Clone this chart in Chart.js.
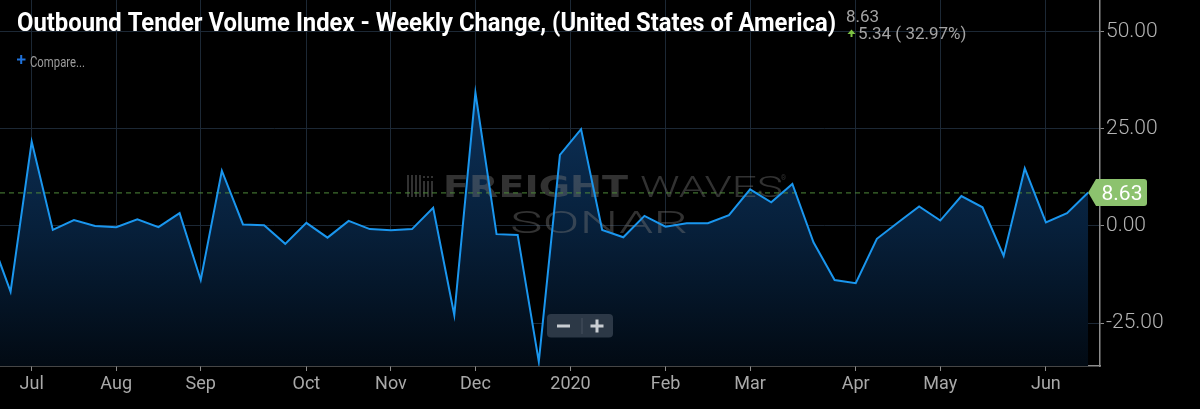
<!DOCTYPE html>
<html><head><meta charset="utf-8">
<script src="https://cdn.jsdelivr.net/npm/chart.js@4.4.0/dist/chart.umd.min.js"></script>
<style>html,body{margin:0;padding:0;background:#000;overflow:hidden}#wrap{width:1200px;height:409px;position:relative}</style>
</head><body><div id="wrap"><canvas id="c" width="1200" height="409"></canvas></div>
<script>
// week number (0 = first full week shown), values = weekly % change
const weekIndex = [-1,0,1,2,3,4,5,6,7,8,9,10,11,12,13,14,15,16,17,18,19,20,21,22,23,24,25,26,27,28,29,30,31,32,33,34,35,36,37,38,39,40,41,42,43,44,45,46,47,48,49,50,51];
const changePct = [-2.0,-16.9,21.7,-1.0,1.5,0.0,-0.3,1.7,-0.3,3.3,-13.9,14.2,0.4,0.2,-4.6,0.8,-3.0,1.3,-0.8,-1.1,-0.8,4.7,-22.9,34.3,-2.1,-2.3,-34.9,18.3,24.9,-1.0,-2.9,2.6,-0.2,0.7,0.7,2.8,9.4,6.1,10.8,-4.2,-13.9,-14.7,-3.3,0.9,5.0,1.4,7.7,4.8,-7.7,14.8,0.9,3.29,8.63];
const monthTickPos = [1,5,9,14,18,22,26.5,31,35,40,44,49];
const monthTickLabels = ['Jul','Aug','Sep','Oct','Nov','Dec','2020','Feb','Mar','Apr','May','Jun'];
const yTickValues = [-25,0,25,50];
const titleText = 'Outbound Tender Volume Index - Weekly Change, (United States of America)';
const lastValue = 8.63;
const changeText = '5.34 ( 32.97%)';

function fitText(c, text, x, y, target, font, color, mode){
  c.save();
  c.font = font; c.fillStyle = color; c.textBaseline = 'alphabetic'; c.textAlign='left';
  if (mode === 'space') {
    const w = c.measureText(text).width;
    const ls = (target - w) / (text.length - 1);
    c.letterSpacing = ls + 'px';
    c.fillText(text, x, y);
  } else {
    const w = c.measureText(text).width;
    c.translate(x, y); c.scale(target / w, 1);
    c.fillText(text, 0, 0);
  }
  c.restore();
}

const overlay = {
  id: 'overlay',
  beforeDatasetsDraw(chart){
    const c = chart.ctx;
    const wm = 'rgba(120,120,120,0.42)';
    // logo bars
    c.save();
    c.fillStyle = wm;
    const bars = [[407,175,197],[411,175,197],[415,175,197],[419,175,197],[423,181,197],[427,181,197],[431,181,197]];
    bars.forEach(b=>c.fillRect(b[0], b[1], 2, b[2]-b[1]));
    c.fillRect(423,176,2,2); c.fillRect(427,176,2,2); c.fillRect(431,176,2,2);
    c.restore();
    fitText(c, 'FREIGHT', 443, 197, 185, 'bold 30px "DejaVu Sans"', wm);
    fitText(c, 'WAVES', 640, 197, 143, '300 30px Roboto', wm);
    fitText(c, '®', 781, 180, 5, '8px Roboto', wm);
    fitText(c, 'SONAR', 510, 233, 178, '300 31px Roboto', wm);
    // dashed last-value line
    const yy = chart.scales.y.getPixelForValue(lastValue);
    const tipX = chart.scales.x.getPixelForValue(weekIndex[weekIndex.length-1]);
    c.save();
    c.strokeStyle = '#4f8a3a'; c.lineWidth = 1; c.setLineDash([5,4]);
    c.beginPath(); c.moveTo(chart.chartArea.left, yy + 0.5); c.lineTo(tipX, yy + 0.5); c.stroke();
    c.restore();
  },
  afterDraw(chart){
    const c = chart.ctx;
    // title
    c.save();
    c.font = 'bold 25px Roboto'; c.fillStyle = '#ffffff'; c.textBaseline='alphabetic';
    c.fillText(titleText, 17, 31, 819);
    c.restore();
    // compare
    c.save();
    c.fillStyle = '#1f72dc';
    c.fillRect(17, 58.5, 8.5, 2); c.fillRect(20.2, 55, 2, 9);
    c.font = '15px Roboto'; c.fillStyle = '#9c9c9c';
    c.fillText('Compare...', 30, 66.5, 55);
    c.restore();
    // header value
    c.save();
    c.font = '17px Roboto'; c.fillStyle = '#a3a3a3';
    c.fillText(String(lastValue), 846, 21.7, 34);
    c.fillText(changeText, 858, 39.3, 110);
    c.fillStyle = '#7cc243';
    c.beginPath(); c.moveTo(851.5, 29.5); c.lineTo(855.5, 34); c.lineTo(847.5, 34); c.closePath(); c.fill();
    c.fillRect(850.5, 33.5, 2, 3.5);
    c.restore();
    // value tag
    const yy = chart.scales.y.getPixelForValue(lastValue);
    const tipX = chart.scales.x.getPixelForValue(weekIndex[weekIndex.length-1]);
    c.save();
    c.fillStyle = '#8cc26e';
    c.beginPath();
    c.moveTo(tipX, yy);
    c.lineTo(1096, yy - 13.5);
    c.lineTo(1144, yy - 13.5);
    c.quadraticCurveTo(1147, yy - 13.5, 1147, yy - 10.5);
    c.lineTo(1147, yy + 10.5);
    c.quadraticCurveTo(1147, yy + 13.5, 1144, yy + 13.5);
    c.lineTo(1096, yy + 13.5);
    c.closePath(); c.fill();
    c.font = '21px Roboto'; c.fillStyle = '#ffffff'; c.textAlign = 'center'; c.textBaseline='alphabetic';
    c.fillText(lastValue.toFixed(2), 1122, yy + 7.5);
    c.restore();
    // zoom control
    c.save();
    c.fillStyle = 'rgba(52,64,78,0.85)';
    c.beginPath(); c.roundRect(547, 314, 66, 23.5, 4); c.fill();
    c.fillStyle = '#c9cdd2';
    c.fillRect(557, 324.5, 13, 3);
    c.fillRect(590.5, 324.5, 13, 3); c.fillRect(595.5, 319.5, 3, 13);
    c.fillStyle = '#46515e';
    c.fillRect(581.5, 318, 1, 16);
    c.restore();
  }
};

new Chart(document.getElementById('c').getContext('2d'), {
  type: 'line',
  data: { datasets: [{
    data: weekIndex.map((w,i)=>({x:w, y:changePct[i]})),
    borderColor: '#1a96ee', borderWidth: 2, pointRadius: 0, tension: 0,
    fill: 'start',
    backgroundColor: (ctx)=>{
      const a = ctx.chart.chartArea; if (!a) return 'rgba(0,0,0,0)';
      const g = ctx.chart.ctx.createLinearGradient(0, a.top, 0, a.bottom);
      g.addColorStop(0, '#114574'); g.addColorStop(0.3, '#0c2f55'); g.addColorStop(0.62, '#07203b'); g.addColorStop(1, '#020a13');
      return g;
    }
  }]},
  options: {
    responsive: false, animation: false, devicePixelRatio: 1, events: [],
    layout: { padding: 0 },
    plugins: { legend:{display:false}, tooltip:{enabled:false}, filler:{drawTime:'beforeDatasetsDraw'} },
    scales: {
      x: { type:'linear', position:'bottom', min:-0.5, max:51.56,
        afterBuildTicks: s => { s.ticks = monthTickPos.map(v=>({value:v})); },
        afterFit: s => { s.height = 43; s.paddingLeft = 0; s.paddingRight = 0; },
        ticks: { autoSkip:false, maxRotation:0, color:'#a9a9a9', font:{family:'Roboto', size:18}, padding:3,
          callback: v => { const i = monthTickPos.indexOf(v); return i >= 0 ? monthTickLabels[i] : ''; } },
        grid: { color:'#1c2835', tickColor:'#8c8c8c', tickLength:5, lineWidth:1 },
        border: { color:'#8c8c8c', width:1.5 }
      },
      y: { position:'right', min:-36, max:58.1,
        afterBuildTicks: s => { s.ticks = yTickValues.map(v=>({value:v})); },
        afterFit: s => { s.width = 100; s.paddingTop = 0; s.paddingBottom = 0; },
        ticks: { color:'#b3b3b3', font:{family:'Roboto', size:21, weight:'300'}, padding:2,
          callback: v => Number(v).toFixed(2) },
        grid: { color:'#1c2835', tickColor:'#8c8c8c', tickLength:4 },
        border: { color:'#8c8c8c', width:1.5 }
      }
    }
  },
  plugins: [overlay]
});
</script>
</body></html>
